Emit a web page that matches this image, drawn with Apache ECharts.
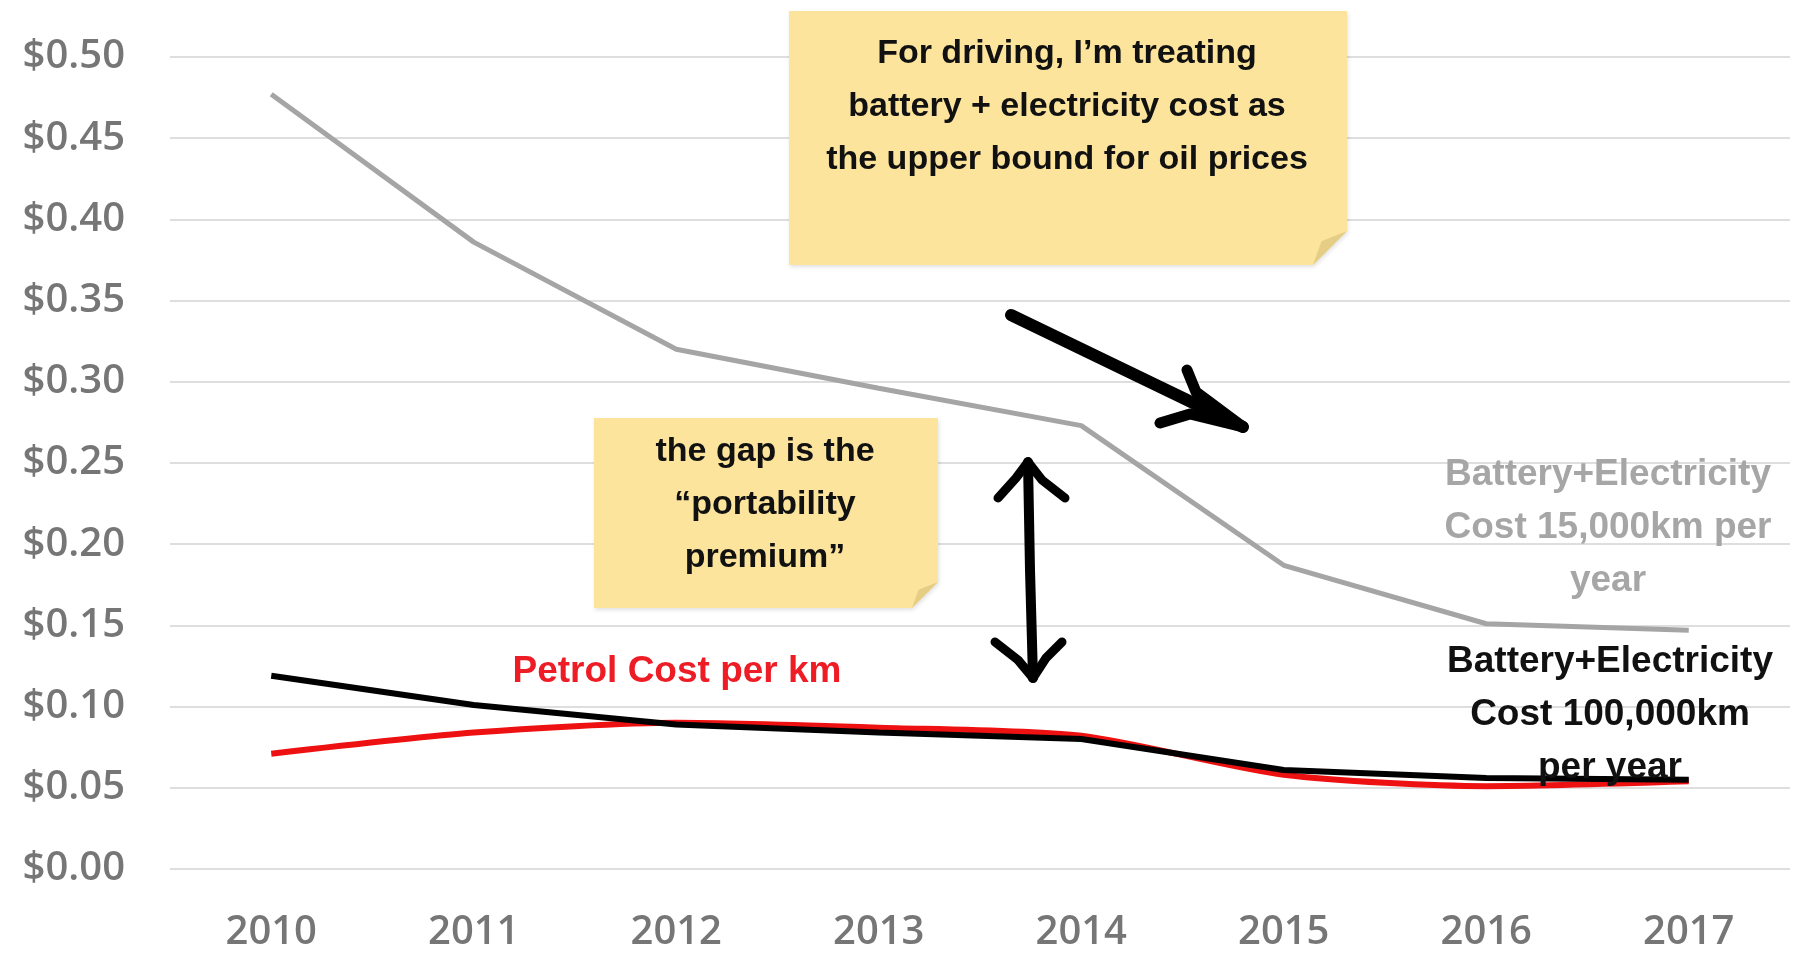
<!DOCTYPE html>
<html>
<head>
<meta charset="utf-8">
<script src="https://cdn.jsdelivr.net/npm/echarts@6/dist/echarts.min.js"></script>
<style>
html,body{margin:0;padding:0;background:#fff;}
#c{width:1793px;height:953px;}
</style>
</head>
<body>
<div id="c"></div>
<script>
var years = ['2010','2011','2012','2013','2014','2015','2016','2017'];
var battery15k = [0.477, 0.386, 0.320, 0.296, 0.273, 0.187, 0.151, 0.147];
var petrol = [0.071, 0.084, 0.090, 0.087, 0.082, 0.058, 0.051, 0.054];
var battery100k = [0.119, 0.101, 0.089, 0.084, 0.080, 0.061, 0.056, 0.055];
var yTicks = [0, 0.05, 0.10, 0.15, 0.20, 0.25, 0.30, 0.35, 0.40, 0.45, 0.50];

var note1Text = "For driving, I’m treating\nbattery + electricity cost as\nthe upper bound for oil prices";
var note2Text = "the gap is the\n“portability\npremium”";
var petrolLabel = "Petrol Cost per km";
var gray15kLabel = "Battery+Electricity\nCost 15,000km per\nyear";
var black100kLabel = "Battery+Electricity\nCost 100,000km\nper year";

var chart = echarts.init(document.getElementById('c'));

function note(L, T, R, B, f) {
  return [
    { type: 'polygon', z: 100, shape: { points: [[L,T],[R,T],[R,B-f],[R-f,B],[L,B]] },
      style: { fill: '#fce49c', shadowBlur: 4, shadowColor: 'rgba(0,0,0,0.12)', shadowOffsetX: 1, shadowOffsetY: 2 } },
    { type: 'polygon', z: 101, shape: { points: [[R,B-f],[R-f,B],[R-f*0.75,B-f*0.7]] },
      style: { fill: '#e6cd85' } }
  ];
}

var handFont = { fontFamily: 'Liberation Sans', fontWeight: 'bold' };
var graphics = [].concat(
  note(789, 11, 1347, 265, 34),
  note(594, 418, 938, 608, 26),
  [
    { type: 'text', z: 102, style: Object.assign({ text: note1Text, x: 1067, y: 107, textAlign: 'center', textVerticalAlign: 'middle', fontSize: 34, lineHeight: 53, fill: '#111' }, handFont) },
    { type: 'text', z: 102, style: Object.assign({ text: note2Text, x: 765, y: 505, textAlign: 'center', textVerticalAlign: 'middle', fontSize: 34, lineHeight: 53, fill: '#111' }, handFont) },
    // arrow 1
    { type: 'polyline', z: 103, shape: { points: [[1011,315],[1243,427]] }, style: { stroke: '#000', lineWidth: 12, lineCap: 'round', fill: null } },
    { type: 'polyline', z: 103, shape: { points: [[1187,370],[1196,392],[1243,427]] }, style: { stroke: '#000', lineWidth: 11, lineCap: 'round', lineJoin: 'round', fill: null } },
    { type: 'polyline', z: 103, shape: { points: [[1160,423],[1190,414],[1243,427]] }, style: { stroke: '#000', lineWidth: 11, lineCap: 'round', lineJoin: 'round', fill: null } },
    // arrow 2
    { type: 'polyline', z: 103, shape: { points: [[1028,462],[1030,570],[1033,678]] }, style: { stroke: '#000', lineWidth: 10, lineCap: 'round', lineJoin: 'round', fill: null } },
    { type: 'polyline', z: 103, shape: { points: [[998,498],[1016,478],[1028,462],[1042,480],[1065,498]] }, style: { stroke: '#000', lineWidth: 9, lineCap: 'round', lineJoin: 'round', fill: null } },
    { type: 'polyline', z: 103, shape: { points: [[995,642],[1018,660],[1033,678],[1046,658],[1062,642]] }, style: { stroke: '#000', lineWidth: 9, lineCap: 'round', lineJoin: 'round', fill: null } },
    // series labels
    { type: 'text', z: 90, style: { text: petrolLabel, x: 677, y: 672, textAlign: 'center', textVerticalAlign: 'middle', fontSize: 37, fontWeight: 'bold', fontFamily: 'Liberation Sans', fill: '#ee1c25' } },
    { type: 'text', z: 90, style: { text: gray15kLabel, x: 1608, y: 528, textAlign: 'center', textVerticalAlign: 'middle', fontSize: 37, lineHeight: 53, fontWeight: 'bold', fontFamily: 'Liberation Sans', fill: '#a6a6a6' } },
    { type: 'text', z: 90, style: { text: black100kLabel, x: 1610, y: 715, textAlign: 'center', textVerticalAlign: 'middle', fontSize: 37, lineHeight: 53, fontWeight: 'bold', fontFamily: 'Liberation Sans', fill: '#111' } }
  ]
);

chart.setOption({
  animation: false,
  backgroundColor: '#ffffff',
  grid: { left: 170, right: 3, top: 57, bottom: 84, containLabel: false },
  xAxis: {
    type: 'category',
    data: years,
    boundaryGap: true,
    axisLine: { show: false },
    axisTick: { show: false },
    axisLabel: { color: '#767676', fontFamily: 'Open Sans', fontWeight: 600, fontSize: 40, margin: 44 }
  },
  yAxis: {
    type: 'value',
    min: 0, max: 0.5, interval: 0.05,
    axisLine: { show: false },
    axisTick: { show: false },
    splitLine: { lineStyle: { color: '#dedede', width: 2 } },
    axisLabel: {
      color: '#767676', fontFamily: 'Open Sans', fontWeight: 600, fontSize: 40, margin: 45,
      formatter: function (v) {
        var t = yTicks.find(function (k) { return Math.abs(k - v) < 1e-9; });
        return '$' + (t !== undefined ? t : v).toFixed(2);
      }
    }
  },
  series: [
    { name: gray15kLabel, type: 'line', data: battery15k, symbol: 'none',
      lineStyle: { color: '#a5a5a5', width: 5 }, z: 2 },
    { name: petrolLabel, type: 'line', data: petrol, symbol: 'none', smooth: 0.25,
      lineStyle: { color: '#ee1111', width: 6 }, z: 3 },
    { name: black100kLabel, type: 'line', data: battery100k, symbol: 'none',
      lineStyle: { color: '#000000', width: 6 }, z: 4 }
  ],
  graphic: graphics
});
</script>
</body>
</html>
